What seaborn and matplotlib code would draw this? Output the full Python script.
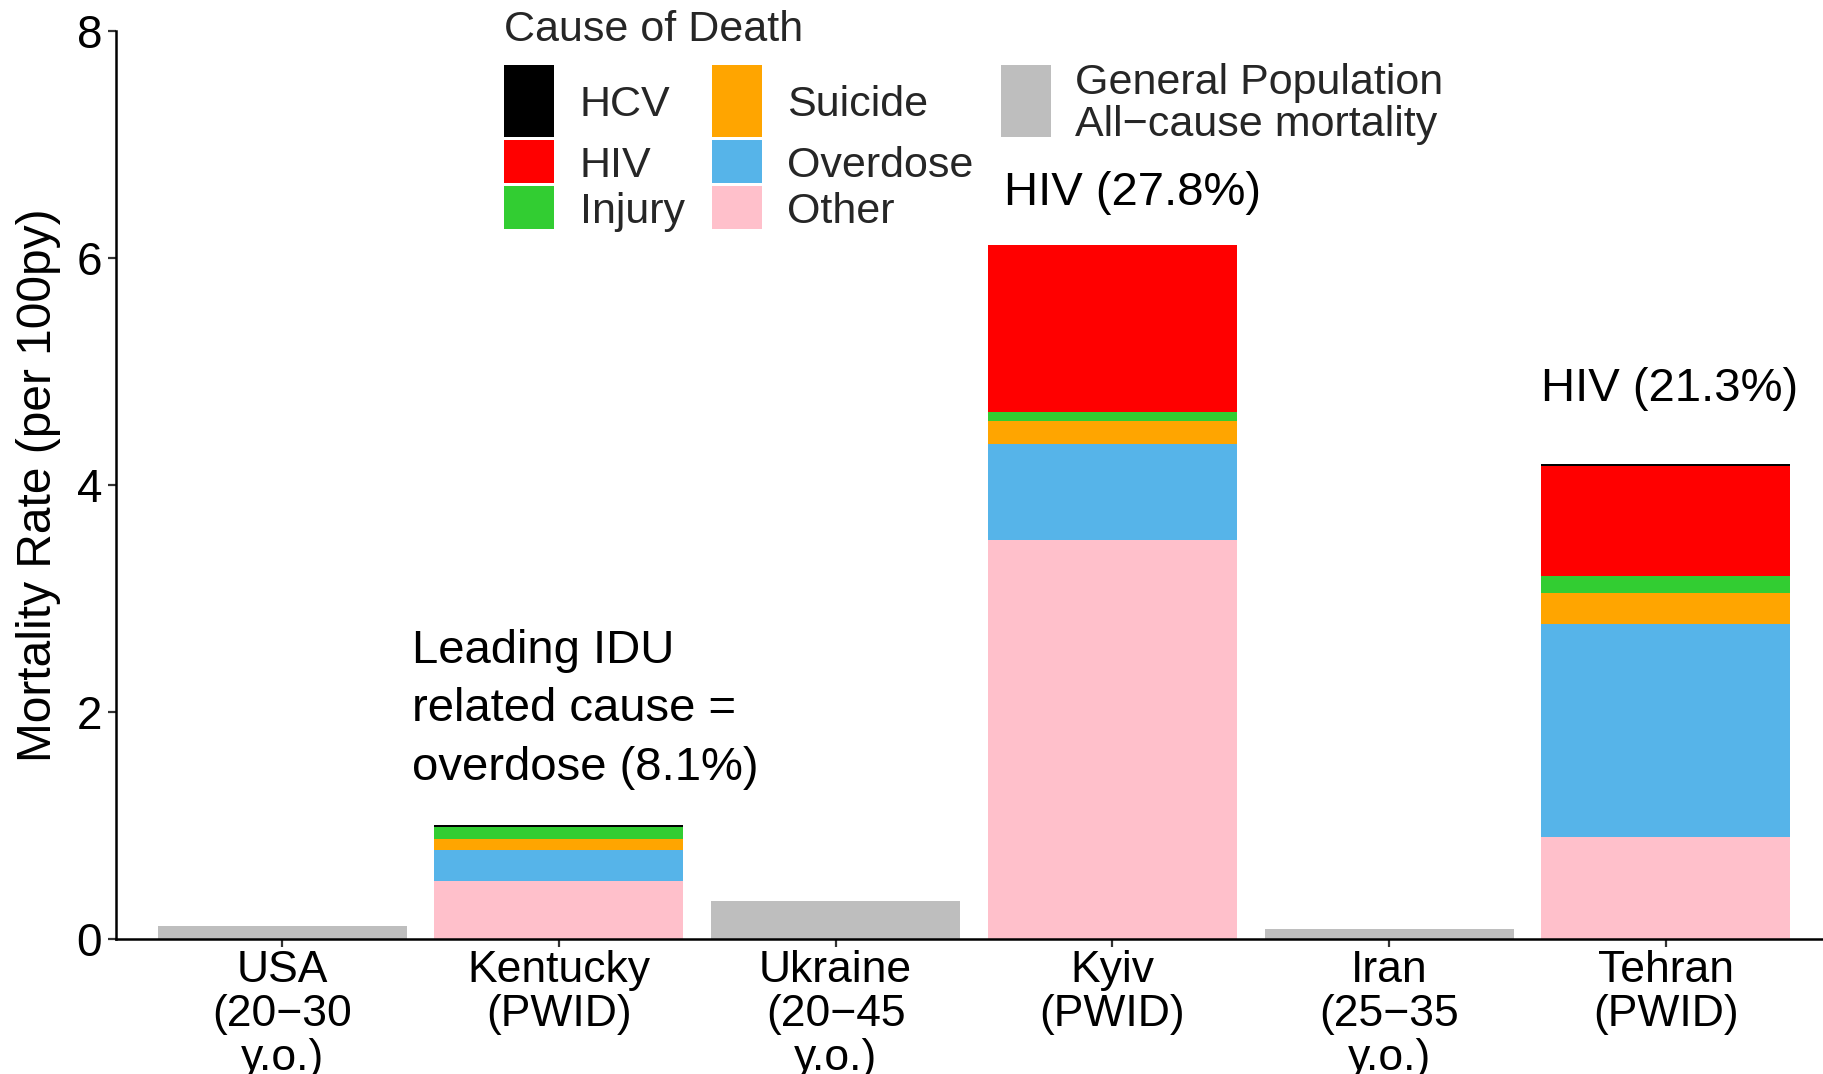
import matplotlib
matplotlib.use("Agg")
import matplotlib.pyplot as plt
import seaborn as sns
import numpy as np
import pandas as pd
from matplotlib.patches import Rectangle

# ---------------- data ----------------
categories = ["USA\n(20\u221230\ny.o.)", "Kentucky\n(PWID)", "Ukraine\n(20\u221245\ny.o.)",
              "Kyiv\n(PWID)", "Iran\n(25\u221235\ny.o.)", "Tehran\n(PWID)"]
general_population = [0.115, 0.0, 0.335, 0.0, 0.088, 0.0]
other    = [0.0, 0.51, 0.0, 3.515, 0.0, 0.896]
overdose = [0.0, 0.27, 0.0, 0.849, 0.0, 1.881]
suicide  = [0.0, 0.10, 0.0, 0.200, 0.0, 0.271]
injury   = [0.0, 0.10, 0.0, 0.079, 0.0, 0.150]
hiv      = [0.0, 0.00, 0.0, 1.473, 0.0, 0.970]
hcv      = [0.0, 0.026, 0.0, 0.0, 0.0, 0.018]

causes_bottom_to_top = ["Other", "Overdose", "Suicide", "Injury", "HIV", "HCV"]
cause_values = {"Other": other, "Overdose": overdose, "Suicide": suicide,
                "Injury": injury, "HIV": hiv, "HCV": hcv}
cause_colors = {"HCV": "#000000", "HIV": "#FF0000", "Injury": "#32CD32",
                "Suicide": "#FFA500", "Overdose": "#56B4E9", "Other": "#FFC0CB"}
gray = "#BEBEBE"

legend_col1 = ["HCV", "HIV", "Injury"]
legend_col2 = ["Suicide", "Overdose", "Other"]

annotations = [
    (0.47, 1.40, "Leading IDU\nrelated cause =\noverdose (8.1%)"),
    (2.61, 6.47, "HIV (27.8%)"),
    (4.55, 4.74, "HIV (21.3%)"),
]

# ---------------- style ----------------
sns.set_style("ticks")
plt.rcParams["font.family"] = ["Liberation Sans", "DejaVu Sans"]

W, H = 1824, 1074
fig = plt.figure(figsize=(W / 100, H / 100), dpi=100)
ax = fig.add_axes([116 / W, 1 - 938.6 / H, (1832 - 116) / W, (938.6 - 31.4) / H])

def fx(x):
    return x / W

def fy(y):
    return 1 - y / H

# general population bars
sns.barplot(x=categories, y=general_population, order=categories, color=gray,
            saturation=1, width=0.9, errorbar=None, linewidth=0, ax=ax)

# stacked cause bars (drawn as overlapping cumulative bars, top layer first)
df = pd.DataFrame(cause_values, index=categories)[causes_bottom_to_top]
cum = df.cumsum(axis=1)
for cause in reversed(causes_bottom_to_top):
    sns.barplot(x=categories, y=cum[cause].values, order=categories,
                color=cause_colors[cause], saturation=1, width=0.9,
                errorbar=None, linewidth=0, ax=ax)

ax.set_xlim(-0.6, 5.6)
ax.set_ylim(0, 8)
ax.set_yticks([0, 2, 4, 6, 8])
ax.set_xticks(range(len(categories)))
ax.set_xticklabels(categories, fontsize=32, linespacing=1.10, color="black")
ax.tick_params(axis="y", labelsize=33, length=6, width=1.6, color="#333333",
               pad=4, labelcolor="black")
ax.tick_params(axis="x", length=6, width=1.6, color="#333333", pad=2)
for s in ["top", "right"]:
    ax.spines[s].set_visible(False)
for s in ["left", "bottom"]:
    ax.spines[s].set_linewidth(1.8)
    ax.spines[s].set_color("black")
ax.set_xlabel("")
ax.set_ylabel("Mortality Rate (per 100py)", fontsize=34.5, color="black")
ax.yaxis.set_label_coords(-0.032, 0.5)

# annotations
for x, y, t in annotations:
    ax.text(x, y, t, fontsize=34, ha="left", va="baseline", linespacing=1.43,
            color="black")

# ---------------- legends ----------------
fig.text(fx(504), fy(40.7), "Cause of Death", fontsize=31, ha="left", va="baseline")
rows = [(65, 137), (140, 183), (186, 229)]
cap = 31
for col_x, lab_x, names in [(504, 580, legend_col1), (712, 787, legend_col2)]:
    for (y0, y1), name in zip(rows, names):
        fig.add_artist(Rectangle((fx(col_x), fy(y1)), 50 / W, (y1 - y0) / H,
                                 transform=fig.transFigure,
                                 facecolor=cause_colors[name], edgecolor="none"))
        fig.text(fx(lab_x), fy((y0 + y1) / 2 + cap / 2), name, fontsize=31,
                 ha="left", va="baseline")

fig.add_artist(Rectangle((fx(1001), fy(137)), 50 / W, 72 / H,
                         transform=fig.transFigure, facecolor=gray, edgecolor="none"))
fig.text(fx(1075), fy(136), "General Population\nAll\u2212cause mortality",
         fontsize=31, ha="left", va="baseline", linespacing=1.06)

fig.savefig("out.png", dpi=100)
